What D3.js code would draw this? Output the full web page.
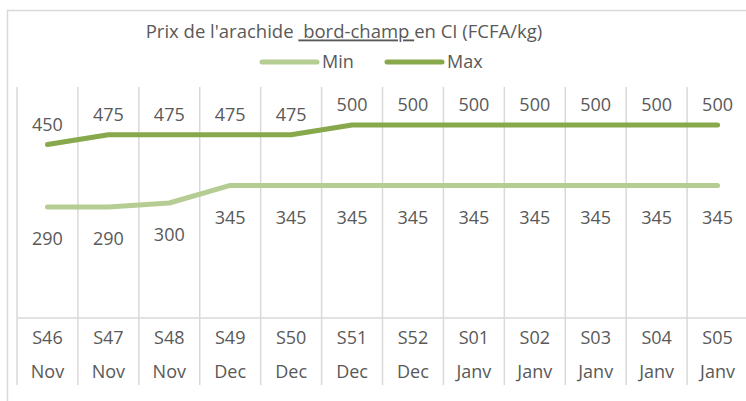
<!DOCTYPE html>
<html>
<head>
<meta charset="utf-8">
<script src="https://cdn.jsdelivr.net/npm/d3@7"></script>
<style>
  body { margin: 0; background: #fff; }
  text { font-family: "Open Sans", sans-serif; fill: #595959; white-space: pre; }
</style>
</head>
<body>
<div class="chart"></div>
<script>
const weeks = ["S46", "S47", "S48", "S49", "S50", "S51", "S52", "S01", "S02", "S03", "S04", "S05"]
const months = ["Nov", "Nov", "Nov", "Dec", "Dec", "Dec", "Dec", "Janv", "Janv", "Janv", "Janv", "Janv"]
const minValues = [290, 290, 300, 345, 345, 345, 345, 345, 345, 345, 345, 345]
const maxValues = [450, 475, 475, 475, 475, 500, 500, 500, 500, 500, 500, 500]

const svgWidth = 746
const svgHeight = 401
const minColor = '#b5cd93'
const maxColor = '#88a84c'
const gridColor = '#d9d9d9'
const fontSize = '18px'

const svg = d3.select(".chart").append("svg")
                .attr('width', svgWidth)
                .attr('height', svgHeight)

// chart border (right and bottom edges fall outside the picture)
svg.append('rect')
    .attr('x', 7.5)
    .attr('y', 10.5)
    .attr('width', 760)
    .attr('height', 420)
    .attr('fill', 'none')
    .attr('stroke', gridColor)
    .attr('stroke-width', 1.5)

const xScale = d3.scaleBand()
                .domain(weeks)
                .range([17, 748])

const yScale = d3.scaleLinear()
                .domain([0, 600])
                .range([320, 86])

const cx = (w) => xScale(w) + xScale.bandwidth() / 2

// vertical grid lines between categories
const edges = weeks.map(w => xScale(w)).concat([xScale.range()[1]])
edges.forEach(x => {
    svg.append('line')
        .attr('x1', x).attr('x2', x)
        .attr('y1', 87).attr('y2', 385)
        .attr('stroke', gridColor)
        .attr('stroke-width', 1.5)
})

// category axis line
svg.append('line')
    .attr('x1', 17).attr('x2', 748)
    .attr('y1', 318).attr('y2', 318)
    .attr('stroke', gridColor)
    .attr('stroke-width', 1.5)

// two-level category labels
weeks.forEach((w, i) => {
    svg.append('text')
        .attr('x', cx(w))
        .attr('y', 338)
        .attr('dy', '.35em')
        .attr('text-anchor', 'middle')
        .attr('font-size', fontSize)
        .text(w)
    svg.append('text')
        .attr('x', cx(w))
        .attr('y', 372)
        .attr('dy', '.35em')
        .attr('text-anchor', 'middle')
        .attr('font-size', fontSize)
        .text(months[i])
})

const line = d3.line()
                .x((d, i) => cx(weeks[i]))
                .y(d => yScale(d))

svg.append('path')
    .datum(minValues)
    .attr('d', line)
    .attr('fill', 'none')
    .attr('stroke', minColor)
    .attr('stroke-width', 5)
    .attr('stroke-linecap', 'round')
    .attr('stroke-linejoin', 'round')

svg.append('path')
    .datum(maxValues)
    .attr('d', line)
    .attr('fill', 'none')
    .attr('stroke', maxColor)
    .attr('stroke-width', 5)
    .attr('stroke-linecap', 'round')
    .attr('stroke-linejoin', 'round')

// data labels: max above the line, min below
maxValues.forEach((d, i) => {
    svg.append('text')
        .attr('x', cx(weeks[i]))
        .attr('y', yScale(d) - 20)
        .attr('dy', '.35em')
        .attr('text-anchor', 'middle')
        .attr('font-size', fontSize)
        .text(d)
})
minValues.forEach((d, i) => {
    svg.append('text')
        .attr('x', cx(weeks[i]))
        .attr('y', yScale(d) + 32)
        .attr('dy', '.35em')
        .attr('text-anchor', 'middle')
        .attr('font-size', fontSize)
        .text(d)
})

// title
const title = svg.append('text')
    .attr('x', 344)
    .attr('y', 32)
    .attr('dy', '.35em')
    .attr('text-anchor', 'middle')
    .attr('font-size', '18.5px')
title.append('tspan').text("Prix de l'arachide ")
title.append('tspan').style('text-decoration', 'underline').text(' bord-champ ')
title.append('tspan').text('en CI (FCFA/kg)')

// legend
const legend = [["Min", minColor, 262], ["Max", maxColor, 387]]
legend.forEach(([name, color, x]) => {
    svg.append('line')
        .attr('x1', x).attr('x2', x + 55)
        .attr('y1', 62).attr('y2', 62)
        .attr('stroke', color)
        .attr('stroke-width', 5)
        .attr('stroke-linecap', 'round')
    svg.append('text')
        .attr('x', x + 60)
        .attr('y', 62)
        .attr('dy', '.35em')
        .attr('font-size', fontSize)
        .text(name)
})
</script>
</body>
</html>
